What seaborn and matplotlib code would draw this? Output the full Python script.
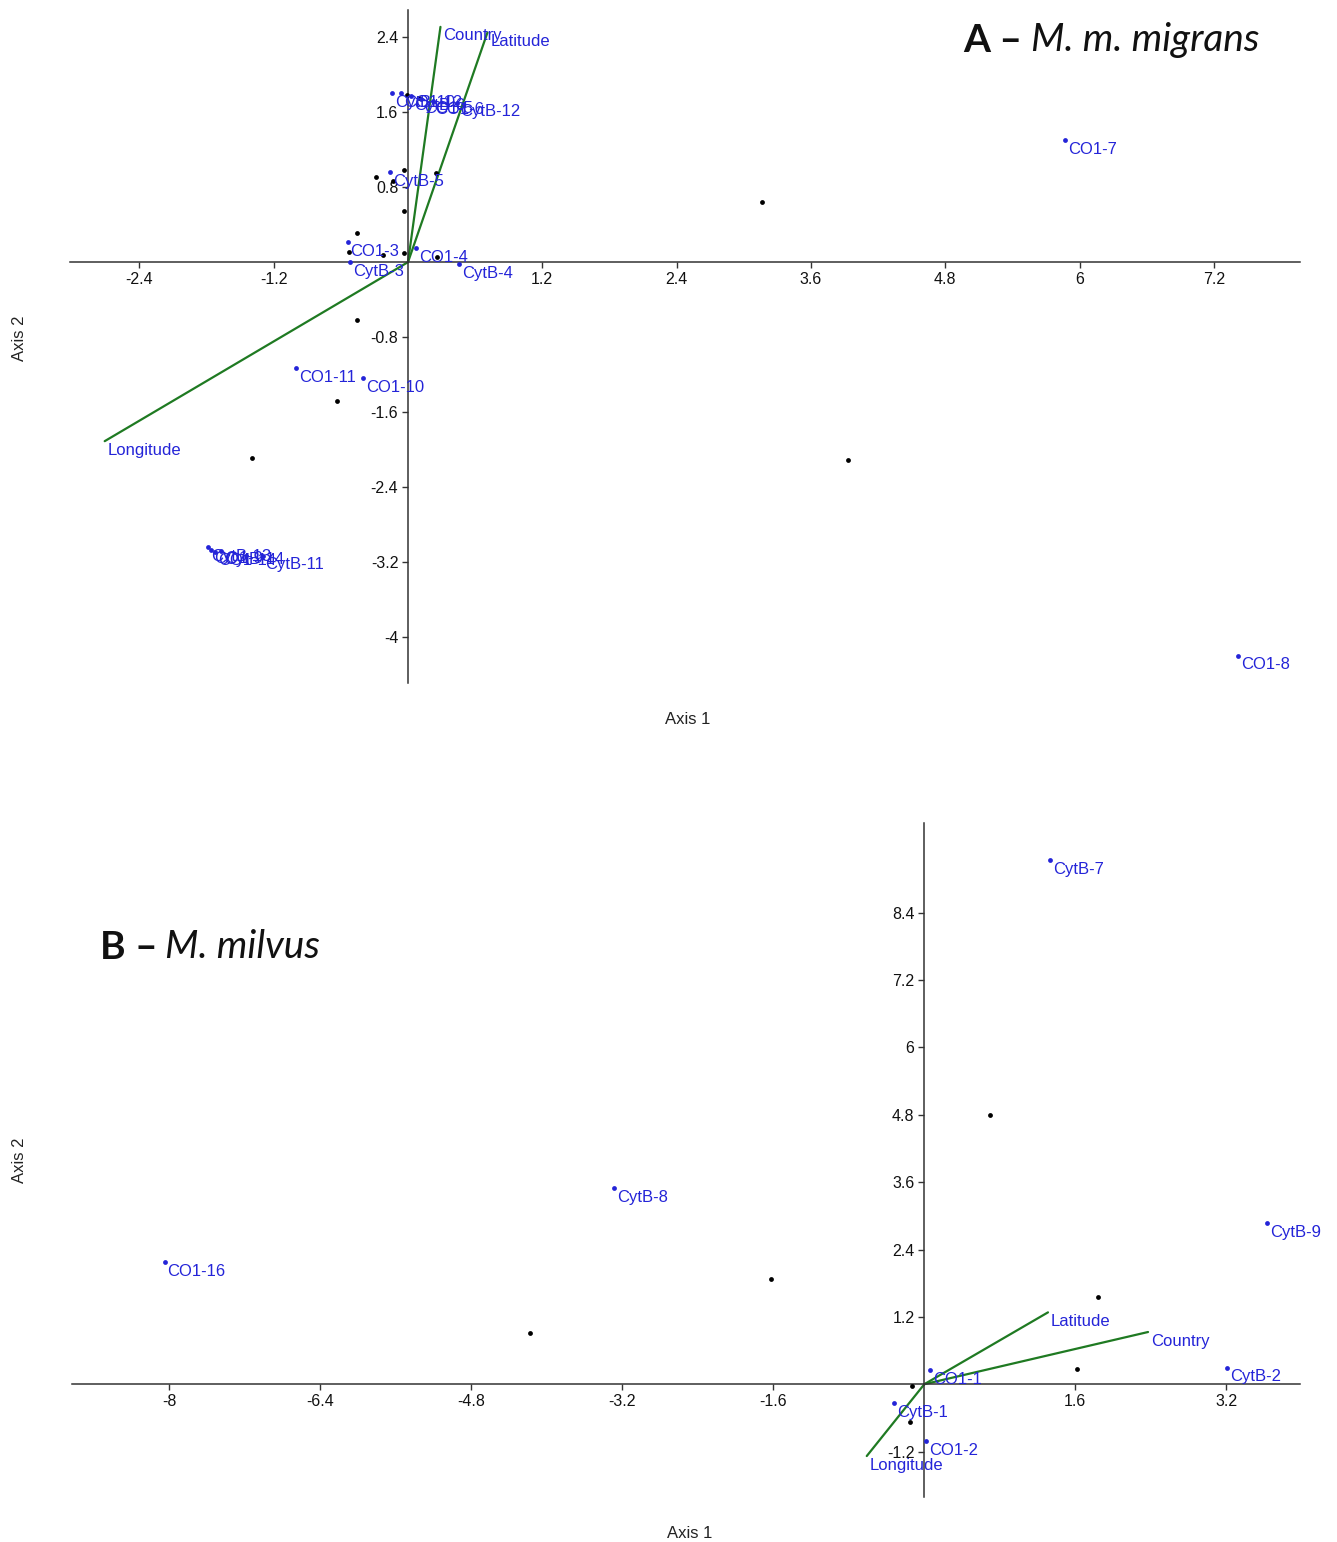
import numpy as np
import pandas as pd
import matplotlib
matplotlib.use("Agg")
import matplotlib.pyplot as plt
import seaborn as sns

sns.set_style("ticks")
plt.rcParams['font.family'] = ['Liberation Sans', 'DejaVu Sans']

# ---------------- Panel A data (M. m. migrans) ----------------
a_labels = ["CO1-7", "CO1-8", "CytB-5",
            "CytB-10", "CO1-12", "CytB-6", "CO1-5", "CO1-6", "CytB-12",
            "CO1-3", "CytB-3", "CO1-4", "CytB-4", "CO1-11", "CO1-10",
            "CytB-13", "CO1-9", "CO1-14", "CytB-14", "CytB-11"]
a_x = [5.87, 7.42, -0.16,
       -0.14, -0.06, 0.03, 0.12, 0.22, 0.44,
       -0.54, -0.52, 0.07, 0.46, -1.00, -0.40,
       -1.79, -1.76, -1.72, -1.67, -1.30]
a_y = [1.30, -4.20, 0.96,
       1.80, 1.80, 1.77, 1.74, 1.72, 1.70,
       0.21, 0.00, 0.15, -0.02, -1.13, -1.24,
       -3.04, -3.07, -3.09, -3.08, -3.13]
a_black_x = [3.16, 3.93, -1.39, -0.63, -0.46, -0.46, -0.53, -0.22, -0.04,
             -0.04, -0.29, -0.04, -0.13, 0.25, 0.26, -0.01, 0.10]
a_black_y = [0.64, -2.11, -2.09, -1.48, -0.62, 0.31, 0.11, 0.08, 0.10,
             0.55, 0.91, 0.98, 0.87, 0.95, 0.05, 1.78, 1.75]
a_vec_names = ["Country", "Latitude", "Longitude"]
a_vec_x = [0.29, 0.71, -2.71]
a_vec_y = [2.51, 2.45, -1.91]
a_xticks = [-2.4, -1.2, 1.2, 2.4, 3.6, 4.8, 6, 7.2]
a_xticklabels = ["-2.4", "-1.2", "1.2", "2.4", "3.6", "4.8", "6", "7.2"]
a_yticks = [2.4, 1.6, 0.8, -0.8, -1.6, -2.4, -3.2, -4]
a_yticklabels = ["2.4", "1.6", "0.8", "-0.8", "-1.6", "-2.4", "-3.2", "-4"]

# ---------------- Panel B data (M. milvus) ----------------
b_labels = ["CytB-7", "CytB-8", "CO1-16", "CytB-9", "CytB-2", "CO1-1", "CytB-1", "CO1-2"]
b_x = [1.33, -3.29, -8.05, 3.63, 3.21, 0.06, -0.32, 0.02]
b_y = [9.34, 3.49, 2.17, 2.87, 0.29, 0.25, -0.34, -1.02]
b_black_x = [0.70, -1.62, -4.18, 1.84, 1.62, -0.13, -0.15]
b_black_y = [4.80, 1.87, 0.91, 1.55, 0.27, -0.04, -0.68]
b_vec_names = ["Latitude", "Country", "Longitude"]
b_vec_x = [1.31, 2.37, -0.61]
b_vec_y = [1.28, 0.93, -1.28]
b_xticks = [-8, -6.4, -4.8, -3.2, -1.6, 1.6, 3.2]
b_xticklabels = ["-8", "-6.4", "-4.8", "-3.2", "-1.6", "1.6", "3.2"]
b_yticks = [8.4, 7.2, 6, 4.8, 3.6, 2.4, 1.2, -1.2]
b_yticklabels = ["8.4", "7.2", "6", "4.8", "3.6", "2.4", "1.2", "-1.2"]

BLUE = "#2424d8"
GREEN = "#1f7a22"
AXC = "#333333"
LFS = 12
TFS = 11.5

W, H = 1337, 1542
fig = plt.figure(figsize=(W / 100, H / 100), dpi=100)


def panel(rect, xlim, ylim, labels, xs, ys, bx, by, vnames, vx, vy,
          xt, xtl, yt, ytl):
    ax = fig.add_axes(rect)
    for name, ex, ey in zip(vnames, vx, vy):
        ax.plot([0, ex], [0, ey], color=GREEN, lw=1.6, zorder=2)
        ax.annotate(name, (ex, ey), xytext=(3, -9), textcoords="offset pixels",
                    color=BLUE, fontsize=LFS, va="center", ha="left", zorder=5)
    dfb = pd.DataFrame({"x": bx, "y": by})
    sns.scatterplot(data=dfb, x="x", y="y", color="black", s=12,
                    linewidth=0, ax=ax, zorder=3)
    df = pd.DataFrame({"x": xs, "y": ys, "label": labels})
    sns.scatterplot(data=df, x="x", y="y", color=BLUE, s=12,
                    linewidth=0, ax=ax, zorder=4)
    for lab, x, y in zip(labels, xs, ys):
        ax.annotate(lab, (x, y), xytext=(3, -9), textcoords="offset pixels",
                    color=BLUE, fontsize=LFS, va="center", ha="left", zorder=5)
    ax.set_xlim(*xlim)
    ax.set_ylim(*ylim)
    ax.spines["left"].set_position(("data", 0))
    ax.spines["bottom"].set_position(("data", 0))
    ax.spines["top"].set_visible(False)
    ax.spines["right"].set_visible(False)
    for s in ("left", "bottom"):
        ax.spines[s].set_color(AXC)
        ax.spines[s].set_linewidth(1.1)
    ax.set_xticks(xt)
    ax.set_xticklabels(xtl)
    ax.set_yticks(yt)
    ax.set_yticklabels(ytl)
    ax.tick_params(axis="both", direction="out", length=4, width=1.0,
                   color=AXC, labelsize=TFS, labelcolor="#111111", pad=3)
    ax.set_xlabel("")
    ax.set_ylabel("")
    ax.patch.set_alpha(0)
    return ax


def r(x0, x1, y0, y1):
    return [x0 / W, 1 - y1 / H, (x1 - x0) / W, (y1 - y0) / H]


axA = panel(r(70, 1300, 10, 683), (-3.02, 7.97), (-4.49, 2.69),
            a_labels, a_x, a_y, a_black_x, a_black_y,
            a_vec_names, a_vec_x, a_vec_y,
            a_xticks, a_xticklabels, a_yticks, a_yticklabels)
axB = panel(r(72, 1300, 823, 1497), (-9.03, 3.98), (-2.01, 10.0),
            b_labels, b_x, b_y, b_black_x, b_black_y,
            b_vec_names, b_vec_x, b_vec_y,
            b_xticks, b_xticklabels, b_yticks, b_yticklabels)

# axis titles
fig.text(688 / W, 1 - 720 / H, "Axis 1", ha="center", va="center", fontsize=12, color="#222222")
fig.text(20 / W, 1 - 338 / H, "Axis 2", ha="center", va="center", rotation=90, fontsize=12, color="#222222")
fig.text(690 / W, 1 - 1533 / H, "Axis 1", ha="center", va="center", fontsize=12, color="#222222")
fig.text(20 / W, 1 - 1160 / H, "Axis 2", ha="center", va="center", rotation=90, fontsize=12, color="#222222")

# panel titles
TF = ["Lato", "DejaVu Sans"]
fig.text(963 / W, 1 - 40 / H, "A \u2013", ha="left", va="center", fontsize=28,
         fontweight="bold", family=TF, color="#111111")
fig.text(1031 / W, 1 - 40 / H, "M. m. migrans", ha="left", va="center", fontsize=28,
         style="italic", family=TF, color="#111111")
fig.text(100 / W, 1 - 947 / H, "B \u2013", ha="left", va="center", fontsize=28,
         fontweight="bold", family=TF, color="#111111")
fig.text(165 / W, 1 - 947 / H, "M. milvus", ha="left", va="center", fontsize=28,
         style="italic", family=TF, color="#111111")

fig.savefig("out.png", dpi=100)
